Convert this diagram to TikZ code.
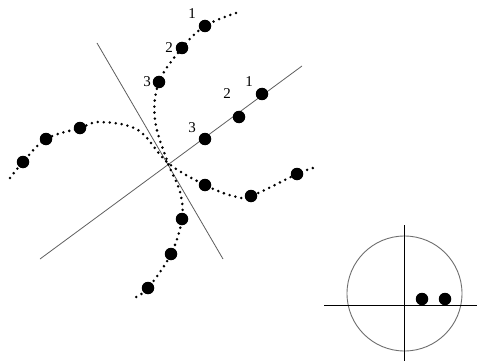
\documentclass[tikz,border=0pt]{standalone}
\usepackage{fontspec}
\setmainfont{Liberation Serif}
\usetikzlibrary{positioning,calc}
\definecolor{axisgray}{RGB}{95,95,95}
\definecolor{rimgray}{RGB}{110,110,110}

\begin{document}
\begin{tikzpicture}[
    x=1pt, y=-1pt,
    every node/.style={font=\fontsize{15}{17}\selectfont},
    dotnode/.style={circle, fill=black, inner sep=0pt, minimum size=12.5pt},
    numlabel/.style={inner sep=0pt},
    axisline/.style={draw=axisgray, line width=0.8pt},
    dotcurve/.style={line width=2.8pt, dash pattern=on 0pt off 6pt, line cap=round},
    smallaxis/.style={draw=black, line width=0.8pt}
]
    \useasboundingbox (0,0) rectangle (477,361);

    % the two crossing axes
    \coordinate (atop) at (97,43);
    \coordinate (abot) at (223,259);
    \coordinate (btop) at (302,66);
    \coordinate (bbot) at (40,259);
    \draw[axisline] (atop) -- (abot);
    \draw[axisline] (btop) -- (bbot);

    % dotted paths
    \draw[dotcurve] plot[smooth, tension=0.6] coordinates {(236,13) (205,26) (182,48) (159,82) (155,120) (168,163) (180,192) (182,219) (171,254) (148,288) (134,298)};
    \draw[dotcurve] plot[smooth, tension=0.6] coordinates {(10,178) (23,162) (46,139) (80,128) (100,122) (138,130) (168,163) (205,185) (233,196) (251,196) (297,174) (313,168)};

    % points on the upper path
    \node (u1) [dotnode] at (205,26) {};
    \node (u2) [dotnode] at (182,48) {};
    \node (u3) [dotnode] at (159,82) {};
    \node (lu1) [numlabel] at (192,14) {1};
    \node (lu2) [numlabel] at (169,48) {2};
    \node (lu3) [numlabel] at (147,82) {3};

    % points on the straight axis
    \node (s1) [dotnode] at (262,94) {};
    \node (s2) [dotnode] at (239,117) {};
    \node (s3) [dotnode] at (205,139) {};
    \node (ls1) [numlabel] at (249,82) {1};
    \node (ls2) [numlabel] at (227,94) {2};
    \node (ls3) [numlabel] at (192,128) {3};

    % remaining points
    \node (w1) [dotnode] at (23,162) {};
    \node (w2) [dotnode] at (46,139) {};
    \node (w3) [dotnode] at (80,128) {};
    \node (e1) [dotnode] at (205,185) {};
    \node (e2) [dotnode] at (251,196) {};
    \node (e3) [dotnode] at (297,174) {};
    \node (d1) [dotnode] at (182,219) {};
    \node (d2) [dotnode] at (171,254) {};
    \node (d3) [dotnode] at (148,288) {};

    % small circle diagram
    \node (rim) [circle, draw=rimgray, line width=0.9pt, inner sep=0pt, minimum size=115pt] at (404.5,293.5) {};
    \coordinate (vtop) at (404,225);
    \coordinate (vbot) at (404,361);
    \coordinate (hleft) at (324,305);
    \coordinate (hright) at (477,305);
    \draw[smallaxis] (vtop) -- (vbot);
    \draw[smallaxis] (hleft) -- (hright);
    \node (c1) [dotnode] at (422,299) {};
    \node (c2) [dotnode] at (445,299) {};
\end{tikzpicture}
\end{document}
